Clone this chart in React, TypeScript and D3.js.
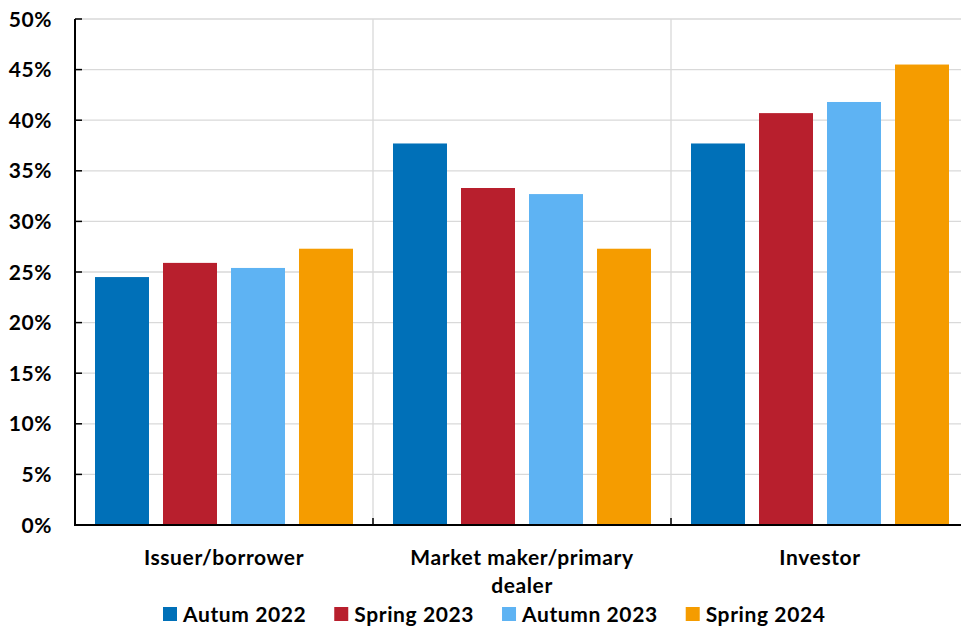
import React from "react";
import * as d3 from "d3";

const categories = ["Issuer/borrower", "Market maker/primary dealer", "Investor"];
const categoryLines = [["Issuer/borrower"], ["Market maker/primary", "dealer"], ["Investor"]];
const seriesNames = ["Autum 2022", "Spring 2023", "Autumn 2023", "Spring 2024"];
const seriesColors = ["#0070B8", "#B81F2D", "#5EB3F3", "#F59C00"];

// one array per survey round, values in % by category
const autum2022 = [24.5, 37.7, 37.7];
const spring2023 = [25.9, 33.3, 40.7];
const autumn2023 = [25.4, 32.7, 41.8];
const spring2024 = [27.3, 27.3, 45.5];
const seriesValues = [autum2022, spring2023, autumn2023, spring2024];

const yTicks = [0, 5, 10, 15, 20, 25, 30, 35, 40, 45, 50];

const FONT = "Lato, 'Open Sans', sans-serif";
const FONT_SIZE = 21;
const SPACING = 0.6;

function measure(text: string): number {
    const ctx = document.createElement("canvas").getContext("2d");
    if (!ctx) return text.length * FONT_SIZE * 0.55;
    ctx.font = `bold ${FONT_SIZE}px Lato`;
    return ctx.measureText(text).width + text.length * SPACING;
}

export default function App() {
    const width = 961;
    const height = 628;
    const margin = { top: 19, right: -8, bottom: 103, left: 75 };

    const x0 = d3.scaleBand<string>()
        .domain(categories)
        .range([margin.left, width - margin.right])
        .padding(0);
    const x1 = d3.scaleBand<string>()
        .domain(seriesNames)
        .range([20, x0.bandwidth() - 20])
        .paddingInner(0.206)
        .paddingOuter(0);
    const y = d3.scaleLinear([0, 50], [height - margin.bottom, margin.top]);

    const legendY = 614;
    const square = 14;
    let lx = 163;
    const legendItems = seriesNames.map((name, i) => {
        const item = { name, color: seriesColors[i], x: lx };
        lx += square + 6 + measure(name) + 28;
        return item;
    });

    const boundaries = x0.domain().slice(1).map((c) => x0(c)!).concat([x0.range()[1]]);

    return <svg width={width} height={height}
        style={{ position: "absolute", left: 0, top: 0, fontFamily: FONT, fontWeight: 700, letterSpacing: SPACING }}>
        {/* horizontal grid */}
        <g>
            {yTicks.map((t) => (
                <line key={t} x1={margin.left} x2={width - margin.right}
                    y1={y(t)} y2={y(t)} stroke="#D9D9D9" strokeWidth={1.3} />
            ))}
        </g>
        {/* vertical grid between categories */}
        <g>
            {boundaries.map((bx, i) => (
                <line key={i} x1={bx} x2={bx} y1={y(50)} y2={y(0)} stroke="#D9D9D9" strokeWidth={1.3} />
            ))}
        </g>
        {/* bars */}
        <g>
            {categories.map((c, ci) => (
                <g key={c} transform={`translate(${x0(c)},0)`}>
                    {seriesNames.map((s, si) => (
                        <rect key={s}
                            x={x1(s)}
                            y={y(seriesValues[si][ci])}
                            width={x1.bandwidth()}
                            height={y(0) - y(seriesValues[si][ci])}
                            fill={seriesColors[si]} />
                    ))}
                </g>
            ))}
        </g>
        {/* axes */}
        <line x1={margin.left} x2={margin.left} y1={y(50)} y2={y(0) + 1} stroke="black" strokeWidth={2} />
        <line x1={margin.left - 1} x2={width - margin.right} y1={y(0)} y2={y(0)} stroke="black" strokeWidth={2} />
        {yTicks.map((t) => (
            <g key={t}>
                <line x1={margin.left} x2={margin.left + 7} y1={y(t)} y2={y(t)} stroke="black" strokeWidth={1.5} />
                <text x={52} y={y(t)} dy="0.36em" textAnchor="end" fontSize={FONT_SIZE} fill="#000">{t}%</text>
            </g>
        ))}
        {boundaries.map((bx, i) => (
            <line key={i} x1={bx} x2={bx} y1={y(0)} y2={y(0) - 7} stroke="black" strokeWidth={1.5} />
        ))}
        {/* category labels */}
        {categories.map((c, ci) => (
            <text key={c} x={x0(c)! + x0.bandwidth() / 2} y={565} textAnchor="middle" fontSize={FONT_SIZE} fill="#000">
                {categoryLines[ci].map((line, li) => (
                    <tspan key={li} x={x0(c)! + x0.bandwidth() / 2} dy={li === 0 ? 0 : 28}>{line}</tspan>
                ))}
            </text>
        ))}
        {/* legend */}
        {legendItems.map((it) => (
            <g key={it.name}>
                <rect x={it.x} y={legendY - square / 2} width={square} height={square} fill={it.color} />
                <text x={it.x + square + 6} y={legendY} dy="0.36em" fontSize={FONT_SIZE} fill="#000">{it.name}</text>
            </g>
        ))}
    </svg>;
}
